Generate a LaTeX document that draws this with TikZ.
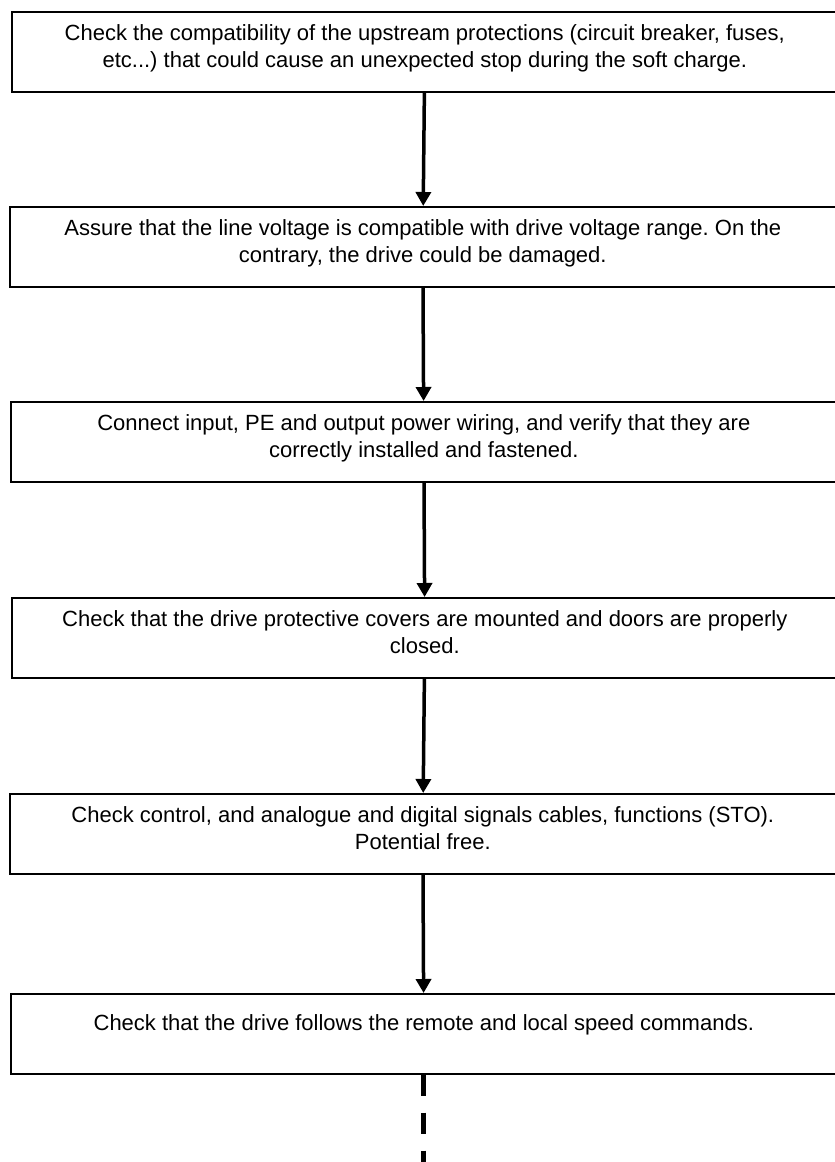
\documentclass[tikz,border=0pt]{standalone}
\usepackage{fontspec}
\setmainfont{Liberation Sans}
\usetikzlibrary{arrows.meta}
\frenchspacing
\newcommand{\boxtext}[2]{\parbox[t][80pt][t]{826pt}{\centering\vspace*{#1}#2}}
\begin{document}
\begin{tikzpicture}[x=1pt,y=-1pt,
  stepbox/.style={draw=black, line width=1.6pt, anchor=north west, inner sep=0pt,
    font=\fontsize{22}{26.5}\selectfont},
  flow/.style={line width=3.5pt, -{Triangle[length=14pt,width=15pt]}},
  dashflow/.style={line width=5pt, dash pattern=on 21pt off 17pt}]
\clip (0,0) rectangle (835,1162);
\node[stepbox] (b1) at (11,11) {\boxtext{13pt}{Check the compatibility of the upstream protections (circuit breaker, fuses,\\etc...) that could cause an unexpected stop during the soft charge.}};
\node[stepbox] (b2) at (9,206) {\boxtext{13pt}{Assure that the line voltage is compatible with drive voltage range. On the\\contrary, the drive could be damaged.}};
\node[stepbox] (b3) at (10,401) {\boxtext{13pt}{Connect input, PE and output power wiring, and verify that they are\\correctly installed and fastened.}};
\node[stepbox] (b4) at (11,597) {\boxtext{13pt}{Check that the drive protective covers are mounted and doors are properly\\closed.}};
\node[stepbox] (b5) at (9,793) {\boxtext{13pt}{Check control, and analogue and digital signals cables, functions (STO).\\Potential free.}};
\node[stepbox] (b6) at (10,993) {\boxtext{21pt}{Check that the drive follows the remote and local speed commands.}};
\coordinate (end) at (b6.south |- 0,1170);
\draw[flow] (b1) -- (b2);
\draw[flow] (b2) -- (b3);
\draw[flow] (b3) -- (b4);
\draw[flow] (b4) -- (b5);
\draw[flow] (b5) -- (b6);
\draw[dashflow] (b6.south) -- (end);
\end{tikzpicture}
\end{document}
